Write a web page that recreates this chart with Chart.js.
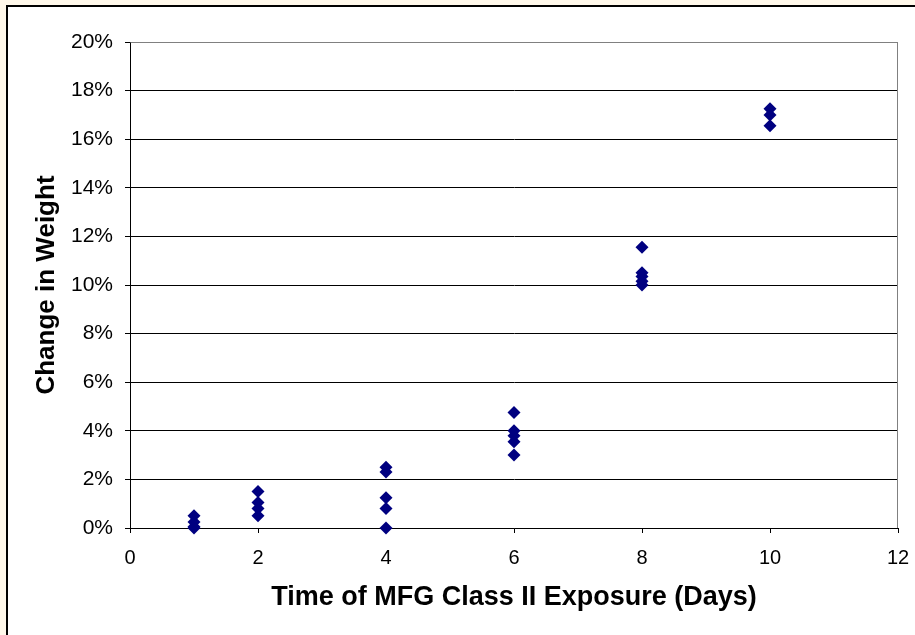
<!DOCTYPE html>
<html>
<head>
<meta charset="utf-8">
<script src="https://cdn.jsdelivr.net/npm/chart.js@4/dist/chart.umd.min.js"></script>
<style>
  html, body { margin: 0; padding: 0; }
  body { width: 915px; height: 635px; background: #FFF8EA; position: relative; overflow: hidden; }
  #frame { position: absolute; left: 6px; top: 5px; width: 915px; height: 635px; background: #fff;
           border-left: 2px solid #000; border-top: 2px solid #000; }
  #wrap { position: absolute; left: 0; top: 0; width: 915px; height: 635px; }
</style>
</head>
<body>
<div id="frame"></div>
<div id="wrap"><canvas id="c" width="915" height="635"></canvas></div>
<script>
// Data (change in weight, %)
const days = [1, 2, 4, 6, 8, 10];
const changeDay1 = [0.5, 0.25, 0.05, 0];
const changeDay2 = [1.5, 1.05, 0.8, 0.5];
const changeDay4 = [2.5, 2.3, 1.25, 0.8, 0];
const changeDay6 = [4.75, 4.0, 3.8, 3.55, 3.0];
const changeDay8 = [11.55, 10.5, 10.35, 10.15, 10.0];
const changeDay10 = [17.25, 17.0, 16.55];
const xTicks = [0, 2, 4, 6, 8, 10, 12];
const yTicks = [0, 2, 4, 6, 8, 10, 12, 14, 16, 18, 20];
const xTitle = 'Time of MFG Class II Exposure (Days)';
const yTitle = 'Change in Weight';

const groups = [changeDay1, changeDay2, changeDay4, changeDay6, changeDay8, changeDay10];
const points = [];
groups.forEach((vals, i) => vals.forEach(v => points.push({ x: days[i], y: v })));

const plotBorder = {
  id: 'plotBorder',
  beforeDatasetsDraw(chart) {
    const { ctx, chartArea: a } = chart;
    ctx.save();
    ctx.strokeStyle = '#808080';
    ctx.lineWidth = 1;
    ctx.beginPath();
    ctx.moveTo(Math.round(a.left) + 0.5, Math.round(a.top) + 0.5);
    ctx.lineTo(Math.round(a.right) - 0.5, Math.round(a.top) + 0.5);
    ctx.lineTo(Math.round(a.right) - 0.5, Math.round(a.bottom));
    ctx.stroke();
    ctx.restore();
  }
};

new Chart(document.getElementById('c'), {
  type: 'scatter',
  data: {
    datasets: [{
      data: points,
      clip: false,
      pointStyle: 'rectRot',
      pointRadius: 6.5,
      pointHoverRadius: 6.5,
      pointBorderWidth: 0,
      backgroundColor: '#000080',
      borderColor: '#000080'
    }]
  },
  options: {
    responsive: false,
    animation: false,
    events: [],
    layout: { padding: { left: 0, top: 42, right: 17, bottom: 0 } },
    plugins: { legend: { display: false }, tooltip: { enabled: false } },
    scales: {
      x: {
        type: 'linear',
        min: 0, max: 12,
        afterFit(s) { s.height = 107; s.paddingLeft = 0; s.paddingRight = 0; },
        afterBuildTicks(s) { s.ticks = xTicks.map(v => ({ value: v })); },
        grid: { drawOnChartArea: false, drawTicks: true, tickLength: 5, tickColor: '#000' },
        border: { display: true, color: '#000', width: 1 },
        ticks: { color: '#000', padding: 13, maxRotation: 0,
                 font: { family: 'Liberation Sans, Arial, sans-serif', size: 20 } },
        title: { display: true, text: xTitle, color: '#000',
                 padding: { top: 0, bottom: 21 },
                 font: { family: 'Liberation Sans, Arial, sans-serif', size: 27, weight: 'bold' } }
      },
      y: {
        type: 'linear',
        min: 0, max: 20,
        afterFit(s) { s.width = 130; s.paddingTop = 0; s.paddingBottom = 0; },
        afterBuildTicks(s) { s.ticks = yTicks.map(v => ({ value: v })); },
        grid: { drawOnChartArea: true, drawTicks: true, tickLength: 5, tickColor: '#000',
                color: c => (c.tick && c.tick.value === 20) ? '#808080' : '#000', lineWidth: 1 },
        border: { display: true, color: '#000', width: 1 },
        ticks: { color: '#000', padding: 12, callback: v => v + '%',
                 font: { family: 'Liberation Sans, Arial, sans-serif', size: 21 } },
        title: { display: true, text: yTitle, color: '#000',
                 padding: { top: 31, bottom: 0 },
                 font: { family: 'Liberation Sans, Arial, sans-serif', size: 26, weight: 'bold' } }
      }
    }
  },
  plugins: [plotBorder]
});
</script>
</body>
</html>
